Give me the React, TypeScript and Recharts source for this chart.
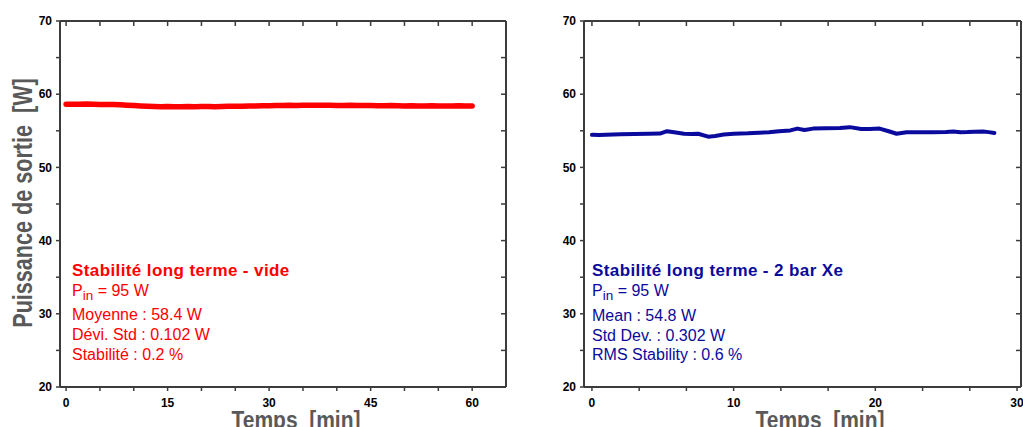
import React from 'react';
import { LineChart, Line, XAxis, YAxis, Label } from 'recharts';

// ---------- data ----------
const timeVide = [0, 1, 2, 3, 4, 5, 6, 7, 8, 9, 10, 11, 12, 13, 14, 15, 16, 17, 18, 19, 20, 21, 22, 23, 24, 25, 26, 27, 28, 29, 30, 31, 32, 33, 34, 35, 36, 37, 38, 39, 40, 41, 42, 43, 44, 45, 46, 47, 48, 49, 50, 51, 52, 53, 54, 55, 56, 57, 58, 59, 60];
const powerVide = [58.62, 58.64, 58.63, 58.65, 58.62, 58.6, 58.61, 58.58, 58.55, 58.5, 58.45, 58.4, 58.35, 58.32, 58.3, 58.31, 58.29, 58.3, 58.32, 58.3, 58.31, 58.33, 58.3, 58.32, 58.34, 58.35, 58.37, 58.38, 58.4, 58.42, 58.43, 58.45, 58.46, 58.48, 58.47, 58.5, 58.49, 58.5, 58.48, 58.5, 58.47, 58.46, 58.48, 58.45, 58.44, 58.46, 58.43, 58.42, 58.44, 58.41, 58.4, 58.42, 58.39, 58.4, 58.41, 58.38, 58.4, 58.39, 58.41, 58.38, 58.39];

const timeXe = [0, 0.5, 1, 2, 3, 4, 4.8, 5.3, 5.8, 6.5, 7, 7.5, 8.2, 8.7, 9.3, 10, 11, 11.8, 12.5, 13.2, 14, 14.5, 15, 15.6, 16.5, 17.5, 18.2, 19, 19.6, 20.3, 21, 21.5, 22.2, 23, 24, 25, 25.5, 26, 26.5, 27, 27.6, 28, 28.4];
const powerXe = [54.45, 54.42, 54.45, 54.52, 54.55, 54.6, 54.62, 54.95, 54.8, 54.6, 54.55, 54.6, 54.2, 54.3, 54.5, 54.6, 54.65, 54.75, 54.8, 54.95, 55.05, 55.3, 55.1, 55.3, 55.35, 55.38, 55.5, 55.25, 55.25, 55.3, 54.9, 54.6, 54.8, 54.8, 54.8, 54.82, 54.9, 54.8, 54.82, 54.88, 54.9, 54.82, 54.7];

const ticksVideX = [0, 5, 10, 15, 20, 25, 30, 35, 40, 45, 50, 55, 60];
const labelsVideX = [0, 15, 30, 45, 60];
const ticksXeX = [0, 10 / 3, 20 / 3, 10, 40 / 3, 50 / 3, 20, 70 / 3, 80 / 3, 30];
const labelsXeX = [0, 10, 20, 30];
const ticksY = [20, 25, 30, 35, 40, 45, 50, 55, 60, 65, 70];
const labelsY = [20, 30, 40, 50, 60, 70];

const dataVide = timeVide.map((t, i) => ({ t, p: powerVide[i] }));
const dataXe = timeXe.map((t, i) => ({ t, p: powerXe[i] }));

// ---------- styles ----------
const FONT = '"Liberation Sans", Arial, Helvetica, sans-serif';
const AXIS = '#3c3c3c';
const TITLE_GRAY = '#595959';
const RED = '#ff0000';
const NAVY = '#0a0a9c';

const fmt = (labels: number[]) => (v: number) => {
  const m = labels.find((l) => Math.abs(l - v) < 1e-6);
  return m === undefined ? '' : String(m);
};

const axisLine = { stroke: AXIS, strokeWidth: 2 };
const tickLine = { stroke: AXIS, strokeWidth: 1.5 };
const tickStyle = { fill: '#000', fontSize: 12, fontWeight: 'bold' as const, fontFamily: FONT };

const XTitle = (props: any) => {
  const vb = props.viewBox || {};
  const x = vb.x + 236;
  const y = vb.y + 41;
  return (
    <text
      x={0}
      y={0}
      transform={`translate(${x} ${y}) scale(1 1.15)`}
      textAnchor="middle"
      fill={TITLE_GRAY}
      fontSize={21}
      fontWeight="bold"
      fontFamily={FONT}
      style={{ whiteSpace: 'pre' }}
    >
      {'Temps  [min]'}
    </text>
  );
};

const YTitle = (props: any) => {
  const vb = props.viewBox || {};
  const x = 32;
  const y = vb.y + vb.height / 2 - 1;
  return (
    <text
      x={0}
      y={0}
      transform={`translate(${x} ${y}) rotate(-90) scale(1 1.25)`}
      textAnchor="middle"
      fill={TITLE_GRAY}
      fontSize={21.6}
      fontWeight="bold"
      fontFamily={FONT}
      style={{ whiteSpace: 'pre' }}
    >
      {'Puissance de sortie  [W]'}
    </text>
  );
};

type Note = { text: React.ReactNode; baseline: number; bold?: boolean; size: number };

const NoteBlock = ({ left, color, lines }: { left: number; color: string; lines: Note[] }) => (
  <>
    {lines.map((l, i) => (
      <div
        key={i}
        style={{
          position: 'absolute',
          left,
          top: l.baseline - 0.8465 * l.size,
          fontSize: l.size,
          lineHeight: `${l.size}px`,
          fontWeight: l.bold ? 'bold' : 'normal',
          letterSpacing: l.bold ? 0.4 : 0,
          fontFamily: FONT,
          color,
          whiteSpace: 'pre',
        }}
      >
        {l.text}
      </div>
    ))}
  </>
);

const Pin = () => (
  <span>
    P<span style={{ fontSize: 13.5, position: 'relative', top: 4 }}>in</span> = 95 W
  </span>
);

const notesVide: Note[] = [
  { text: 'Stabilité long terme - vide', baseline: 276.5, bold: true, size: 17 },
  { text: <Pin />, baseline: 297, size: 16 },
  { text: 'Moyenne : 58.4 W', baseline: 321, size: 16 },
  { text: 'Dévi. Std : 0.102 W', baseline: 341, size: 16 },
  { text: 'Stabilité : 0.2 %', baseline: 361, size: 16 },
];

const notesXe: Note[] = [
  { text: 'Stabilité long terme - 2 bar Xe', baseline: 276.5, bold: true, size: 17 },
  { text: <Pin />, baseline: 297, size: 16 },
  { text: 'Mean : 54.8 W', baseline: 321.5, size: 16 },
  { text: 'Std Dev. : 0.302 W', baseline: 341.5, size: 16 },
  { text: 'RMS Stability : 0.6 %', baseline: 361, size: 16 },
];

const Panel = ({
  data,
  width,
  margin,
  xDomain,
  xTicks,
  xLabels,
  color,
  strokeWidth,
  yTitle,
}: any) => (
  <LineChart width={width} height={427} data={data} margin={margin}>
    <XAxis
      type="number"
      dataKey="t"
      domain={xDomain}
      allowDataOverflow
      ticks={xTicks}
      interval={0}
      tickFormatter={fmt(xLabels)}
      tickSize={4}
      tickMargin={7}
      height={30}
      axisLine={axisLine}
      tickLine={tickLine}
      tick={tickStyle}
    >
      <Label content={XTitle} />
    </XAxis>
    <XAxis
      xAxisId="top"
      orientation="top"
      mirror
      type="number"
      dataKey="t"
      domain={xDomain}
      allowDataOverflow
      ticks={xTicks}
      interval={0}
      tickFormatter={() => ''}
      tickSize={5}
      axisLine={axisLine}
      tickLine={tickLine}
    />
    <YAxis
      type="number"
      domain={[20, 70]}
      allowDataOverflow
      ticks={ticksY}
      interval={0}
      tickFormatter={fmt(labelsY)}
      tickSize={4}
      tickMargin={4}
      width={44}
      axisLine={axisLine}
      tickLine={tickLine}
      tick={tickStyle}
    >
      {yTitle ? <Label content={YTitle} /> : null}
    </YAxis>
    <YAxis
      yAxisId="right"
      orientation="right"
      mirror
      type="number"
      domain={[20, 70]}
      allowDataOverflow
      ticks={ticksY}
      interval={0}
      tickFormatter={() => ''}
      tickSize={5}
      axisLine={axisLine}
      tickLine={tickLine}
    />
    <Line
      type="linear"
      dataKey="p"
      stroke={color}
      strokeWidth={strokeWidth}
      strokeLinejoin="round"
      strokeLinecap="round"
      dot={false}
      isAnimationActive={false}
    />
  </LineChart>
);

export default function App() {
  return (
    <div style={{ position: 'absolute', left: 0, top: 0, width: 1023, height: 427, background: '#fff', overflow: 'hidden', fontFamily: FONT }}>
      <div style={{ position: 'absolute', left: 0, top: 0 }}>
        <Panel
          data={dataVide}
          width={520}
          margin={{ top: 21, right: 14, bottom: 10, left: 16 }}
          xDomain={[-0.9, 65]}
          xTicks={ticksVideX}
          xLabels={labelsVideX}
          color={RED}
          strokeWidth={5.5}
          yTitle
        />
      </div>
      <div style={{ position: 'absolute', left: 520, top: 0 }}>
        <Panel
          data={dataXe}
          width={503}
          margin={{ top: 21, right: 2, bottom: 10, left: 20 }}
          xDomain={[-0.56, 30.28]}
          xTicks={ticksXeX}
          xLabels={labelsXeX}
          color={NAVY}
          strokeWidth={4}
          yTitle={false}
        />
      </div>
      <NoteBlock left={72} color={RED} lines={notesVide} />
      <NoteBlock left={592} color={NAVY} lines={notesXe} />
    </div>
  );
}
